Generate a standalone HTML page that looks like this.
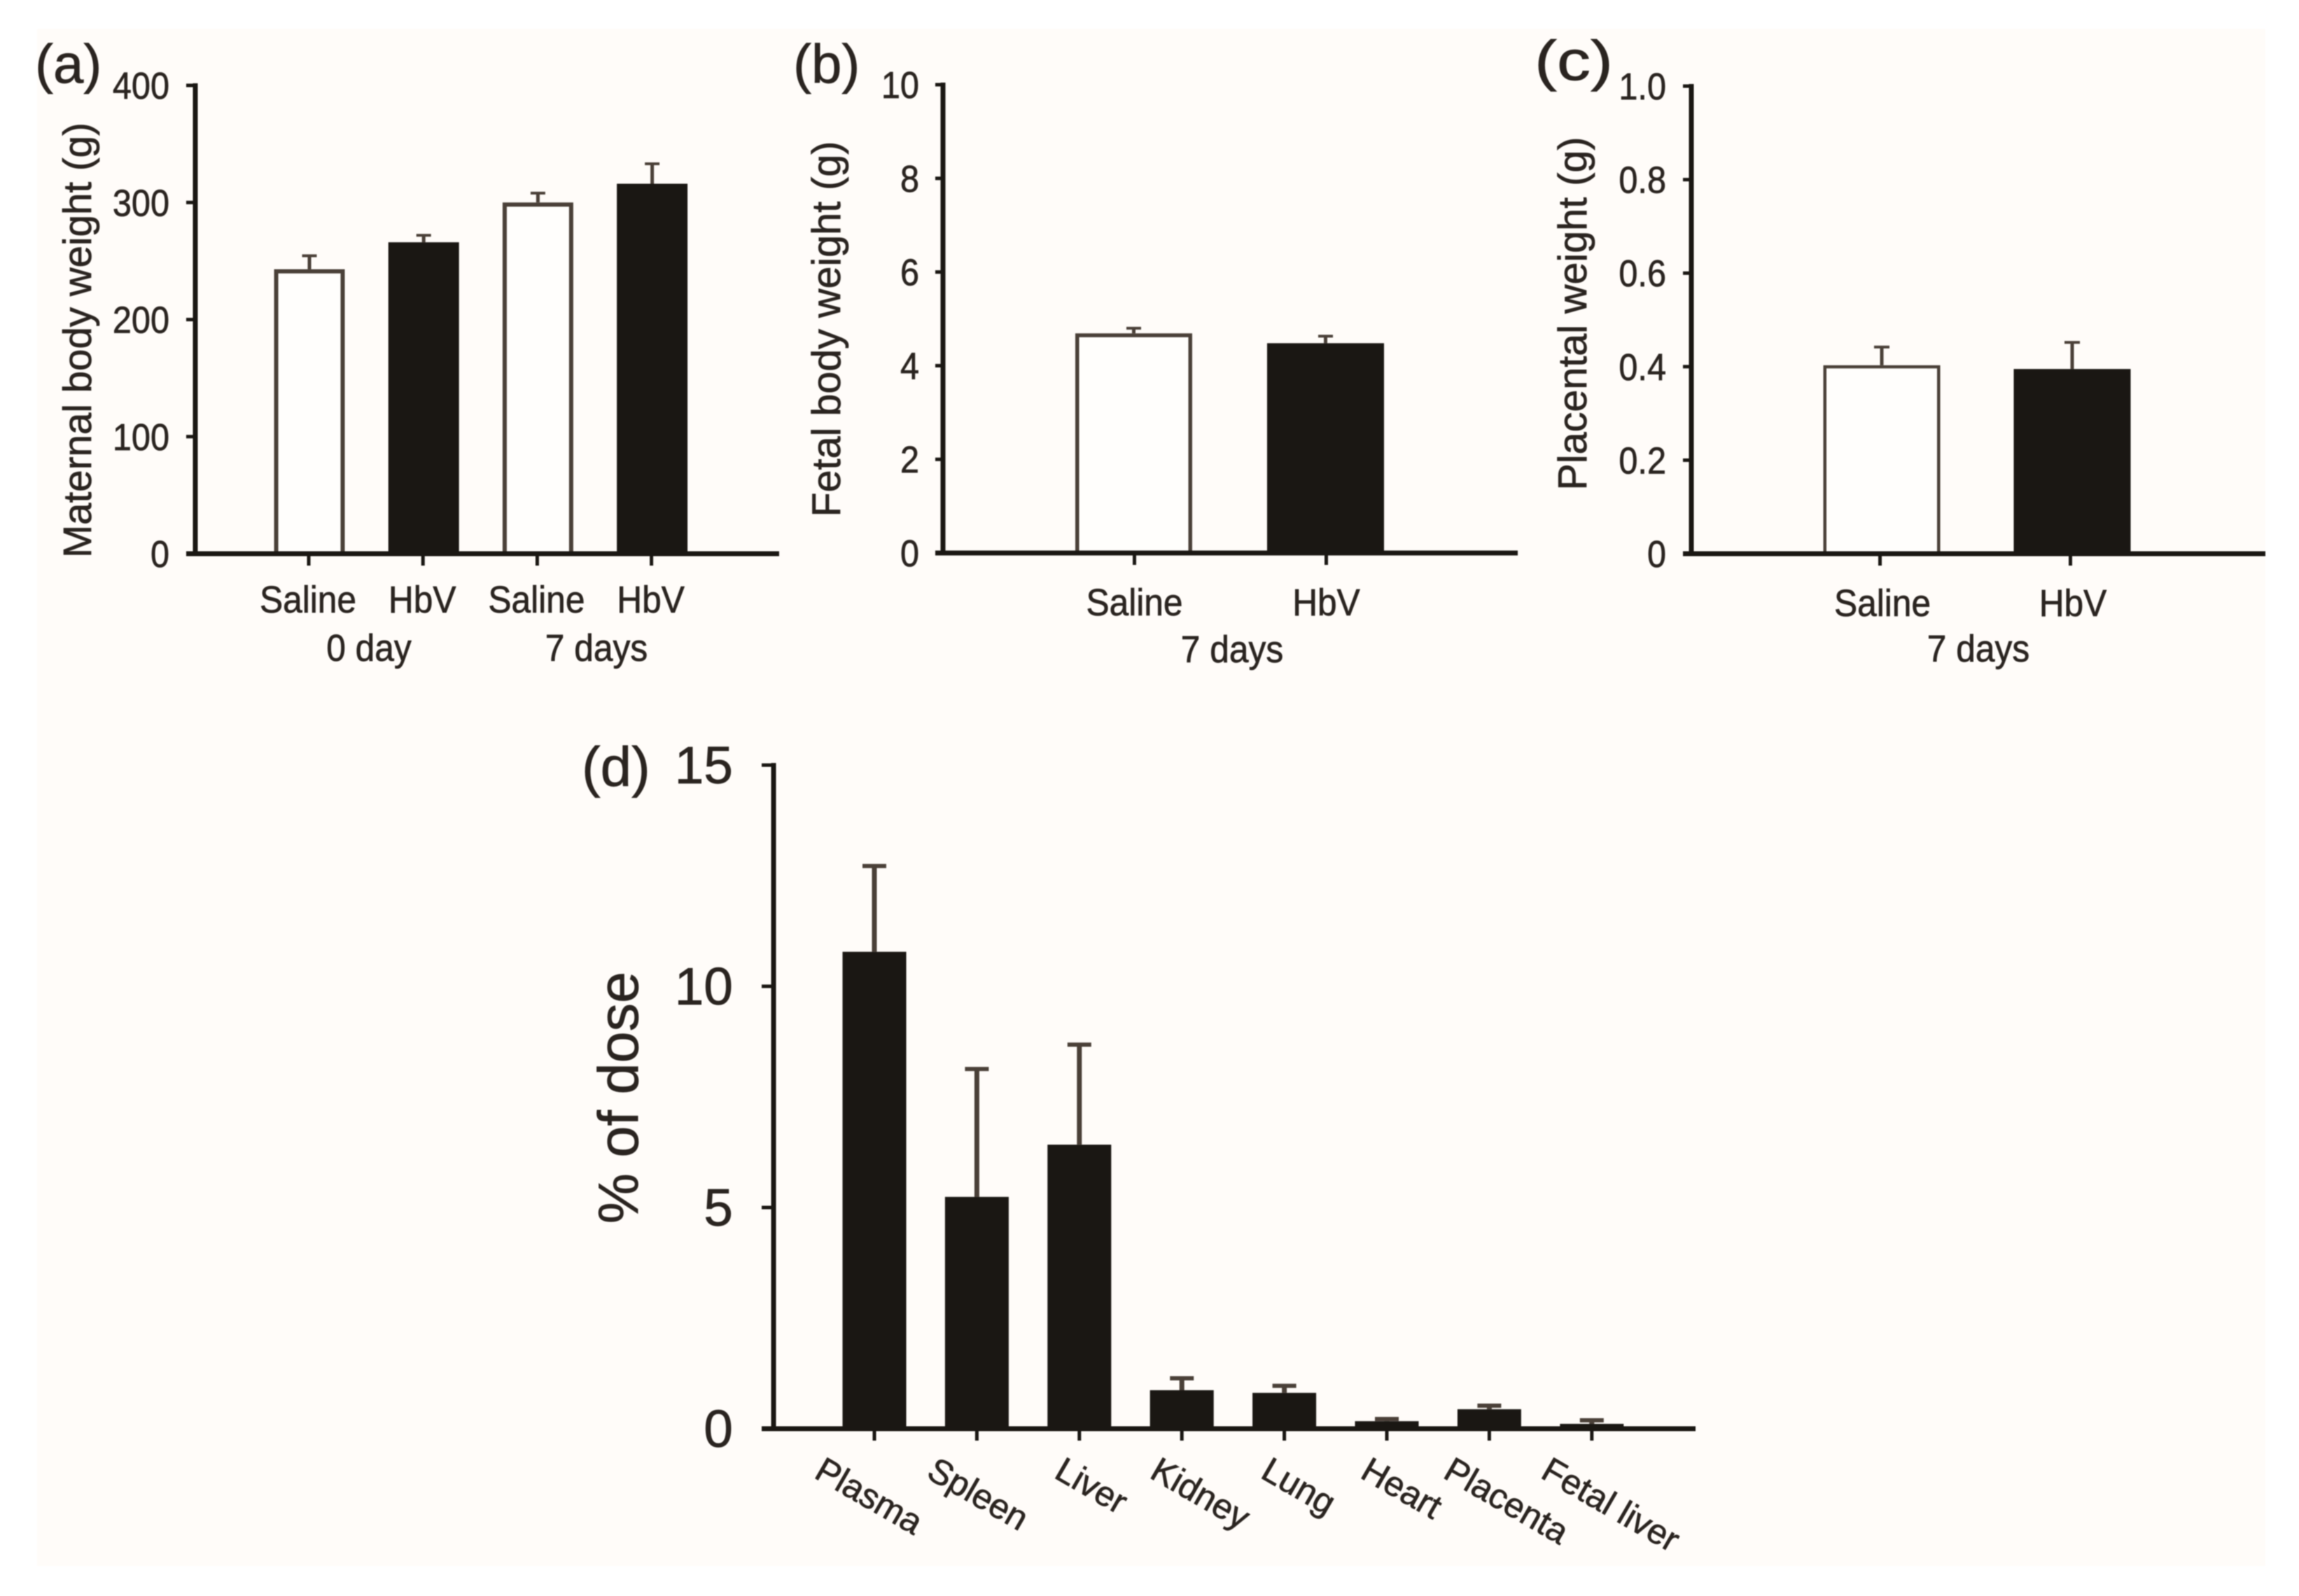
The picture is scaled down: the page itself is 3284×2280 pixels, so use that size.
<!DOCTYPE html>
<html lang="en">
<head>
<meta charset="utf-8">
<title>Body weight and dose distribution charts</title>
<style>
html,body{margin:0;padding:0;background:#fff;}
body{width:3284px;height:2280px;overflow:hidden;}
svg{display:block;filter:blur(0.8px);}
text{font-family:"Liberation Sans",Arial,sans-serif;fill:#2a2420;stroke:#2a2420;stroke-width:0.7px;}
</style>
</head>
<body>
<svg id="figure" xmlns="http://www.w3.org/2000/svg" width="3284" height="2280" viewBox="0 0 3284 2280">
<rect x="53" y="41" width="3183" height="2196" fill="#fffcf9"/>
</svg>
<script>
// ---------- Chart data ----------
const panelACategories = ["Saline", "HbV", "Saline", "HbV"];
const panelAValues = [243, 266, 300, 316];
const panelAErrors = [11.5, 6, 8, 17];
const panelATickLabels = ["0", "100", "200", "300", "400"];
const panelAGroups = ["0 day", "7 days"];

const panelBCategories = ["Saline", "HbV"];
const panelBValues = [4.69, 4.48];
const panelBErrors = [0.11, 0.15];
const panelBTickLabels = ["0", "2", "4", "6", "8", "10"];
const panelBGroups = ["7 days"];

const panelCCategories = ["Saline", "HbV"];
const panelCValues = [0.403, 0.395];
const panelCErrors = [0.039, 0.057];
const panelCTickLabels = ["0", "0.2", "0.4", "0.6", "0.8", "1.0"];
const panelCGroups = ["7 days"];

const panelDCategories = ["Plasma", "Spleen", "Liver", "Kidney", "Lung", "Heart", "Placenta", "Fetal liver"];
const panelDValues = [10.78, 5.24, 6.42, 0.87, 0.81, 0.17, 0.44, 0.11];
const panelDErrors = [1.94, 2.89, 2.26, 0.27, 0.16, 0.05, 0.08, 0.08];
const panelDTickLabels = ["0", "5", "10", "15"];

const panelAFills = ["open", "solid", "open", "solid"];
const panelBFills = ["open", "solid"];
const panelCFills = ["open", "solid"];
const panelDFills = ["solid", "solid", "solid", "solid", "solid", "solid", "solid", "solid"];

// ---------- Drawing ----------
const SVG_NS = "http://www.w3.org/2000/svg";
const INK = "#1a1713";
const EDGE = "#4a4038";
const figure = document.getElementById("figure");

function make(tag, attrs, parent) {
  const el = document.createElementNS(SVG_NS, tag);
  for (const k in attrs) el.setAttribute(k, attrs[k]);
  parent.appendChild(el);
  return el;
}

function line(parent, name, x1, y1, x2, y2, w, color) {
  const el = make("line", { x1: x1, y1: y1, x2: x2, y2: y2, stroke: color || INK, "stroke-width": w }, parent);
  
  
  return el;
}

function label(parent, name, str, x, y, size, anchor, transform, squeeze) {
  const el = make("text", { x: x, y: y, "font-size": size, "text-anchor": anchor || "middle" }, parent);
  if (transform) el.setAttribute("transform", transform);
  el.textContent = str;
  
  
  if (squeeze) {
    el.setAttribute("textLength", (el.getComputedTextLength() * squeeze).toFixed(1));
    el.setAttribute("lengthAdjust", "spacingAndGlyphs");
  }
  return el;
}

function drawPanel(p) {
  const g = make("g", {}, figure);
  
  

  const maxV = Number(p.tickLabels[p.tickLabels.length - 1]);
  const yScale = v => p.y0 - (v / maxV) * (p.y0 - p.yTop);
  const xScale = i => p.first + p.step * i;

  // bars and error bars
  p.values.forEach((v, i) => {
    const cx = xScale(i);
    const top = yScale(v);
    const errTop = yScale(v + p.errors[i]);
    const slug = p.categories[i].toLowerCase().replace(/\s+/g, "-") + "-" + i;
    line(g, "error-bar-" + slug, cx, top, cx, errTop, p.errW, EDGE);
    line(g, "error-cap-" + slug, cx - p.capW / 2, errTop, cx + p.capW / 2, errTop, p.capH, EDGE);
    const open = p.fills[i] === "open";
    const inset = open ? p.edgeW / 2 : 0;
    const bar = make("rect", {
      x: cx - p.barW / 2 + inset,
      y: top + inset,
      width: p.barW - inset * 2,
      height: p.y0 - top - inset,
      fill: open ? "#fffefc" : INK,
      stroke: open ? EDGE : "none",
      "stroke-width": open ? p.edgeW : 0
    }, g);
    
    
  });

  // axes
  line(g, "y-axis", p.axisX, p.yTop - 3, p.axisX, p.y0 + 3, 7);
  line(g, "x-axis", p.axisX - p.tickLen, p.y0, p.xEnd, p.y0, 7);

  // y ticks and labels
  p.tickLabels.forEach(t => {
    const v = Number(t);
    const y = yScale(v);
    line(g, "y-tick-" + t, p.axisX - p.tickLen, y, p.axisX, y, 5);
    label(g, "y-tick-label-" + t, t, p.tickRight, y + p.tickDy, p.tickSize, "end", null, p.tickSqueeze);
  });

  // x ticks
  p.categories.forEach((c, i) => {
    const x = xScale(i) + p.tickShift;
    line(g, "x-tick-" + i, x, p.y0, x, p.y0 + 17, 5);
  });

  label(g, "panel-label-" + p.id, "(" + p.id + ")", p.tagX, p.tagY, p.tagSize, "start", null, p.tagSqueeze);
  label(g, "y-axis-title", p.title, p.titleX, p.titleY, p.titleSize, "middle",
        "rotate(-90 " + p.titleX + " " + p.titleY + ")");
  return { g: g, xScale: xScale };
}

function drawCategoryLabels(res, p, baseline, shift) {
  p.categories.forEach((c, i) => {
    label(res.g, "x-label-" + c.toLowerCase() + "-" + i, c, res.xScale(i) + shift, baseline, 54, "middle", null, 0.92);
  });
}

// Panel (a)
const panelA = {
  id: "a", title: "Maternal body weight (g)",
  categories: panelACategories, values: panelAValues, errors: panelAErrors,
  tickLabels: panelATickLabels, fills: panelAFills,
  axisX: 279, y0: 791, yTop: 122, xEnd: 1113, tickLen: 13,
  first: 442, step: 163.2, barW: 101, edgeW: 6, tickShift: -1,
  errW: 5, capW: 21, capH: 4,
  tickRight: 242, tickDy: 19, tickSize: 54, tickSqueeze: 0.9,
  tagX: 50, tagY: 118, tagSize: 78,
  titleX: 130, titleY: 486, titleSize: 56.5
};
const resA = drawPanel(panelA);
drawCategoryLabels(resA, panelA, 875, -2);
label(resA.g, "group-label-0-day", panelAGroups[0], 527, 944, 54, "middle", null, 0.92);
label(resA.g, "group-label-7-days", panelAGroups[1], 852, 944, 54, "middle", null, 0.92);

// Panel (b)
const panelB = {
  id: "b", title: "Fetal body weight (g)",
  categories: panelBCategories, values: panelBValues, errors: panelBErrors,
  tickLabels: panelBTickLabels, fills: panelBFills,
  axisX: 1347, y0: 790, yTop: 121, xEnd: 2168, tickLen: 11,
  first: 1619.5, step: 274, barW: 167, edgeW: 5.5, tickShift: 1,
  errW: 5, capW: 21, capH: 4,
  tickRight: 1313, tickDy: 19, tickSize: 54, tickSqueeze: 0.9,
  tagX: 1133, tagY: 118, tagSize: 78,
  titleX: 1200, titleY: 470, titleSize: 57.5
};
const resB = drawPanel(panelB);
drawCategoryLabels(resB, panelB, 879, 1);
label(resB.g, "group-label-7-days", panelBGroups[0], 1760, 946, 54, "middle", null, 0.92);

// Panel (c)
const panelC = {
  id: "c", title: "Placental weight (g)",
  categories: panelCCategories, values: panelCValues, errors: panelCErrors,
  tickLabels: panelCTickLabels, fills: panelCFills,
  axisX: 2416, y0: 791, yTop: 123, xEnd: 3236, tickLen: 12,
  first: 2688, step: 272, barW: 167, edgeW: 4.5, tickShift: -2.5,
  errW: 5, capW: 22, capH: 4,
  tickRight: 2380, tickDy: 19, tickSize: 54, tickSqueeze: 0.9,
  tagX: 2192, tagY: 114, tagSize: 80, tagSqueeze: 1.2,
  titleX: 2266, titleY: 448, titleSize: 57.5
};
const resC = drawPanel(panelC);
drawCategoryLabels(resC, panelC, 880, 1);
label(resC.g, "group-label-7-days", panelCGroups[0], 2826, 945, 54, "middle", null, 0.92);

// Panel (d)
const panelD = {
  id: "d", title: "% of dose",
  categories: panelDCategories, values: panelDValues, errors: panelDErrors,
  tickLabels: panelDTickLabels, fills: panelDFills,
  axisX: 1105, y0: 2041, yTop: 1093, xEnd: 2422, tickLen: 17,
  first: 1249, step: 146.4, barW: 91, edgeW: 0, tickShift: 0,
  errW: 7, capW: 34, capH: 6,
  tickRight: 1047, tickDy: 26, tickSize: 75,
  tagX: 831, tagY: 1123, tagSize: 80,
  titleX: 911, titleY: 1568, titleSize: 81
};
const resD = drawPanel(panelD);

function slantedLabel(i, offset) {
  const x = resD.xScale(i) + offset;
  const y = 2110;
  const name = "x-label-" + panelDCategories[i].toLowerCase().replace(/\s+/g, "-");
  label(resD.g, name, panelDCategories[i], x, y, 50, "start", "rotate(30 " + x + " " + y + ")");
}
slantedLabel(0, -88);
slantedLabel(1, -74);
slantedLabel(2, -38);
slantedLabel(3, -48);
slantedLabel(4, -36);
slantedLabel(5, -40);
slantedLabel(6, -68);
slantedLabel(7, -75);
</script>
</body>
</html>
